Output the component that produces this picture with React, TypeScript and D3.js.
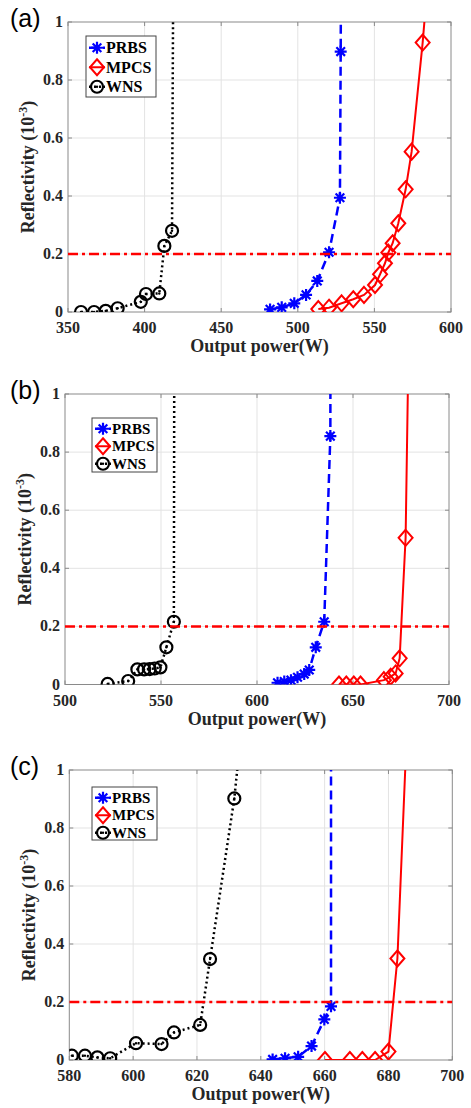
import React from 'react';
import * as d3 from 'd3';

type Pt = [number, number];

// ---------- Data (output power W, reflectivity 1e-3) ----------
// Panel (a)
const aPRBS: Pt[] = [[481.9,0.009],[489.5,0.016],[497.7,0.03],[505.4,0.059],[512.7,0.107],[520.4,0.206],[527.5,0.394],[528.0,0.898],[528.3,1.3]];
const aMPCS: Pt[] = [[513.4,0.01],[520.4,0.015],[528.6,0.03],[536.2,0.044],[543.2,0.059],[550.4,0.093],[553.7,0.13],[556.9,0.168],[559.1,0.205],[561.9,0.237],[565.6,0.306],[570.4,0.423],[574.3,0.553],[581.5,0.929],[585,1.15]];
const aWNS: Pt[] = [[358.5,0.0],[367,0.0],[374.6,0.004],[382.4,0.013],[397.5,0.035],[400.9,0.062],[409.6,0.064],[412.9,0.228],[417.9,0.28],[419,1.5]];
const aXTicks = [350, 400, 450, 500, 550, 600];

// Panel (b)
const bPRBS: Pt[] = [[610.7,0.006],[614.2,0.01],[617.7,0.015],[621.1,0.025],[624.6,0.036],[627.2,0.05],[630.6,0.128],[635,0.216],[638.2,0.855],[638.3,1.3]];
const bMPCS: Pt[] = [[642.7,0.0],[646.5,0.0],[650.4,0.0],[653.9,0.0],[666.1,0.015],[669.6,0.027],[672.2,0.038],[674.3,0.09],[677.4,0.505],[679,1.2]];
const bWNS: Pt[] = [[522.2,0.002],[532.9,0.012],[537.7,0.052],[541.2,0.052],[544.1,0.053],[546.7,0.055],[549.7,0.059],[552.8,0.128],[556.7,0.216],[557,1.5]];
const bXTicks = [500, 550, 600, 650, 700];

// Panel (c)
const cPRBS: Pt[] = [[643.7,0.002],[647.6,0.006],[651.7,0.011],[655.9,0.048],[659.9,0.14],[662,0.185],[662,1.5]];
const cMPCS: Pt[] = [[660.1,0.0],[667.9,0.0],[671.8,0.0],[675.8,0.0],[680,0.029],[682.8,0.35],[686,1.2]];
const cWNS: Pt[] = [[580.8,0.015],[584.9,0.015],[588.8,0.009],[592.8,0.006],[600.9,0.058],[608.9,0.055],[612.8,0.095],[621,0.121],[624.1,0.348],[631.7,0.902],[634,1.15]];
const cXTicks = [580, 600, 620, 640, 660, 680, 700];

const yTicks = [0, 0.2, 0.4, 0.6, 0.8, 1];
const yTickLabels = ['0', '0.2', '0.4', '0.6', '0.8', '1'];
const threshold = 0.2;
const seriesNames = ['PRBS', 'MPCS', 'WNS'];

const serif = "'Liberation Serif', 'Times New Roman', serif";
const sans = "'Liberation Sans', Arial, sans-serif";

function asteriskPath(r: number) {
  const k = r * 0.72;
  return `M${-r},0H${r}M0,${-r}V${r}M${-k},${-k}L${k},${k}M${-k},${k}L${k},${-k}`;
}
function diamondPath(w: number, h: number) {
  return `M0,${-h}L${w},0L0,${h}L${-w},0Z`;
}

function Marker({ kind, x, y }: { kind: number; x: number; y: number }) {
  if (kind === 0) {
    return <path d={asteriskPath(6)} transform={`translate(${x},${y})`} stroke="#0000ff" strokeWidth={2.2} fill="none" />;
  }
  if (kind === 1) {
    return <path d={diamondPath(7, 8)} transform={`translate(${x},${y})`} stroke="#ff0000" strokeWidth={2} fill="none" />;
  }
  return (
    <g transform={`translate(${x},${y})`}>
      <circle r={6} stroke="#000" strokeWidth={2.2} fill="none" />
      <circle r={1.2} fill="#000" />
    </g>
  );
}

const lineStyles = [
  { stroke: '#0000ff', width: 2.5, dash: '9,5' },
  { stroke: '#ff0000', width: 2, dash: undefined as string | undefined },
  { stroke: '#000000', width: 2.5, dash: '2,3' },
];

interface PanelProps {
  id: string;
  label: string;
  left: number; right: number; top: number; bottom: number;
  xTicks: number[];
  series: Pt[][];
  legend: { x: number; y: number; w: number; h: number; rowH: number; font: number };
}

function Panel(p: PanelProps) {
  const x = d3.scaleLinear().domain([p.xTicks[0], p.xTicks[p.xTicks.length - 1]]).range([p.left, p.right]);
  const y = d3.scaleLinear().domain([0, 1]).range([p.bottom, p.top]);
  const line = d3.line<Pt>().x(d => x(d[0])).y(d => y(d[1]));
  const clipId = `clip-${p.id}`;
  const tick = 4;
  const lg = p.legend;
  return (
    <g>
      <defs>
        <clipPath id={clipId}>
          <rect x={p.left} y={p.top} width={p.right - p.left} height={p.bottom - p.top} />
        </clipPath>
      </defs>
      <rect x={p.left} y={p.top} width={p.right - p.left} height={p.bottom - p.top} fill="#fff" />
      {/* grid */}
      {p.xTicks.slice(1, -1).map(t => (
        <line key={`gx${t}`} x1={x(t)} x2={x(t)} y1={p.top} y2={p.bottom} stroke="#e3e3e3" strokeWidth={1} />
      ))}
      {yTicks.slice(1, -1).map(t => (
        <line key={`gy${t}`} x1={p.left} x2={p.right} y1={y(t)} y2={y(t)} stroke="#e3e3e3" strokeWidth={1} />
      ))}
      {/* box + ticks */}
      <rect x={p.left} y={p.top} width={p.right - p.left} height={p.bottom - p.top} fill="none" stroke="#8a8a8a" strokeWidth={1} />
      {p.xTicks.map(t => (
        <g key={`tx${t}`}>
          <line x1={x(t)} x2={x(t)} y1={p.bottom} y2={p.bottom - tick} stroke="#8a8a8a" />
          <line x1={x(t)} x2={x(t)} y1={p.top} y2={p.top + tick} stroke="#8a8a8a" />
          <text x={x(t)} y={p.bottom + 21} textAnchor="middle" fontFamily={serif} fontWeight="bold" fontSize={16} fill="#262626">{t}</text>
        </g>
      ))}
      {yTicks.map((t, i) => (
        <g key={`ty${t}`}>
          <line x1={p.left} x2={p.left + tick} y1={y(t)} y2={y(t)} stroke="#8a8a8a" />
          <line x1={p.right} x2={p.right - tick} y1={y(t)} y2={y(t)} stroke="#8a8a8a" />
          <text x={p.left - 5} y={y(t) + 5} textAnchor="end" fontFamily={serif} fontWeight="bold" fontSize={16} fill="#262626">{yTickLabels[i]}</text>
        </g>
      ))}
      {/* data */}
      <g clipPath={`url(#${clipId})`}>
        {p.series.map((s, i) => (
          <path key={`l${i}`} d={line(s) || ''} fill="none" stroke={lineStyles[i].stroke} strokeWidth={lineStyles[i].width} strokeDasharray={lineStyles[i].dash} />
        ))}
        {p.series.map((s, i) =>
          s.filter(d => d[1] <= 1.0).map((d, j) => <Marker key={`m${i}-${j}`} kind={i} x={x(d[0])} y={y(d[1])} />)
        )}
        <line x1={p.left} x2={p.right} y1={y(threshold)} y2={y(threshold)} stroke="#ff0000" strokeWidth={2.5} strokeDasharray="10,4,3,4" />
      </g>
      {/* legend */}
      <rect x={lg.x} y={lg.y} width={lg.w} height={lg.h} fill="#fff" stroke="#444" strokeWidth={1} />
      {seriesNames.map((n, i) => {
        const cy = lg.y + lg.rowH * (i + 0.5) + 2;
        const mx = lg.x + 11;
        return (
          <g key={n}>
            <line x1={mx - 8} x2={mx + 8} y1={cy} y2={cy} stroke={lineStyles[i].stroke} strokeWidth={lineStyles[i].width} strokeDasharray={lineStyles[i].dash} />
            <Marker kind={i} x={mx} y={cy} />
            <text x={lg.x + 20} y={cy + lg.font * 0.33} fontFamily={serif} fontWeight="bold" fontSize={lg.font} fill="#000">{n}</text>
          </g>
        );
      })}
      {/* axis labels */}
      <text x={(p.left + p.right) / 2} y={p.bottom + 40} textAnchor="middle" fontFamily={serif} fontWeight="bold" fontSize={18} fill="#262626">Output power(W)</text>
      <text transform={`translate(${p.left - 34},${(p.top + p.bottom) / 2}) rotate(-90)`} textAnchor="middle" fontFamily={serif} fontWeight="bold" fontSize={18} fill="#262626">
        Reflectivity (10<tspan dy={-7} fontSize={12}>-3</tspan><tspan dy={7}>)</tspan>
      </text>
      {/* panel label */}
      <text x={10} y={p.top + 5} fontFamily={sans} fontSize={25} fill="#000">{p.label}</text>
    </g>
  );
}

export default function App() {
  return (
    <svg width={471} height={1108} style={{ position: 'absolute', left: 0, top: 0, background: '#fff' }}>
      <rect width={471} height={1108} fill="#fff" />
      <Panel id="a" label="(a)" left={68} right={451} top={22} bottom={312} xTicks={aXTicks}
        series={[aPRBS, aMPCS, aWNS]} legend={{ x: 86, y: 36, w: 70, h: 61, rowH: 19.5, font: 16 }} />
      <Panel id="b" label="(b)" left={65} right={449} top={394} bottom={684.5} xTicks={bXTicks}
        series={[bPRBS, bMPCS, bWNS]} legend={{ x: 92, y: 418, w: 65, h: 54, rowH: 17.5, font: 15 }} />
      <Panel id="c" label="(c)" left={69.3} right={452.3} top={770} bottom={1060} xTicks={cXTicks}
        series={[cPRBS, cMPCS, cWNS]} legend={{ x: 92, y: 787, w: 65, h: 53, rowH: 17.5, font: 15 }} />
    </svg>
  );
}
